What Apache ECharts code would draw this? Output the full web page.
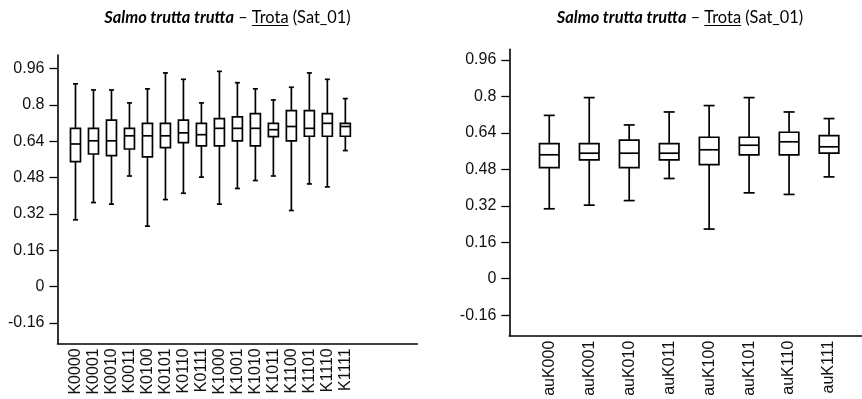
<!DOCTYPE html>
<html>
<head>
<meta charset="utf-8">
<script src="https://cdn.jsdelivr.net/npm/echarts@6/dist/echarts.min.js"></script>
<style>html,body{margin:0;padding:0;background:#fff;}#c{width:862px;height:399px;}</style>
</head>
<body>
<div id="c"></div>
<script>
// ---- Data ----
const leftCats  = ['K0000','K0001','K0010','K0011','K0100','K0101','K0110','K0111','K1000','K1001','K1010','K1011','K1100','K1101','K1110','K1111'];
const leftHigh  = [0.893,0.866,0.866,0.809,0.871,0.941,0.913,0.809,0.948,0.898,0.871,0.822,0.878,0.941,0.913,0.828];
const leftQ3    = [0.697,0.697,0.733,0.697,0.719,0.719,0.733,0.719,0.740,0.747,0.762,0.719,0.775,0.775,0.762,0.719];
const leftMed   = [0.628,0.642,0.642,0.664,0.664,0.664,0.677,0.669,0.697,0.697,0.697,0.691,0.705,0.697,0.719,0.705];
const leftQ1    = [0.550,0.584,0.577,0.606,0.571,0.612,0.634,0.620,0.620,0.642,0.620,0.660,0.642,0.662,0.662,0.662];
const leftLow   = [0.294,0.370,0.363,0.487,0.266,0.383,0.411,0.482,0.363,0.432,0.467,0.487,0.335,0.452,0.439,0.599];

const rightCats = ['auK000','auK001','auK010','auK011','auK100','auK101','auK110','auK111'];
const rightHigh = [0.717,0.795,0.675,0.732,0.760,0.795,0.732,0.703];
const rightQ3   = [0.593,0.593,0.608,0.593,0.621,0.621,0.643,0.628];
const rightMed  = [0.544,0.551,0.551,0.551,0.566,0.586,0.601,0.579];
const rightQ1   = [0.488,0.522,0.488,0.522,0.501,0.544,0.544,0.551];
const rightLow  = [0.307,0.323,0.343,0.440,0.218,0.377,0.370,0.447];

const yTicks = [-0.16, 0, 0.16, 0.32, 0.48, 0.64, 0.8, 0.96];
const titleParts = ['Salmo trutta trutta', ' \u2013 ', 'Trota', ' (Sat_01)'];

// ---- Build ----
const leftAxisCats  = [''].concat(leftCats, ['', '', '', '']);
const rightAxisCats = [''].concat(rightCats, ['']);

function mkData(low, q1, med, q3, high) {
  return low.map((v, i) => [i + 1, low[i], q1[i], med[i], q3[i], high[i]]);
}

function boxRenderer(boxW, capW) {
  return function (params, api) {
    const x = api.value(0);
    const pLow = api.coord([x, api.value(1)]);
    const pQ1 = api.coord([x, api.value(2)]);
    const pMed = api.coord([x, api.value(3)]);
    const pQ3 = api.coord([x, api.value(4)]);
    const pHigh = api.coord([x, api.value(5)]);
    const cx = pMed[0];
    const st = { stroke: '#000', lineWidth: 1.7, fill: 'none' };
    return {
      type: 'group',
      children: [
        { type: 'line', shape: { x1: cx, y1: pQ3[1], x2: cx, y2: pHigh[1] }, style: st },
        { type: 'line', shape: { x1: cx, y1: pQ1[1], x2: cx, y2: pLow[1] }, style: st },
        { type: 'line', shape: { x1: cx - capW / 2, y1: pHigh[1], x2: cx + capW / 2, y2: pHigh[1] }, style: st },
        { type: 'line', shape: { x1: cx - capW / 2, y1: pLow[1], x2: cx + capW / 2, y2: pLow[1] }, style: st },
        { type: 'rect', shape: { x: cx - boxW / 2, y: pQ3[1], width: boxW, height: pQ1[1] - pQ3[1] }, style: { stroke: '#000', lineWidth: 1.7, fill: '#fff' } },
        { type: 'line', shape: { x1: cx - boxW / 2, y1: pMed[1], x2: cx + boxW / 2, y2: pMed[1] }, style: st }
      ]
    };
  };
}

const labelFont = { fontFamily: "'Liberation Sans', Arial, sans-serif", fontSize: 16, color: '#111' };

function yAxis(gi, max) {
  return {
    type: 'value', gridIndex: gi, min: -0.25, max: max,
    splitLine: { show: false },
    axisLine: { show: true, lineStyle: { color: '#000', width: 1.6 } },
    axisTick: { show: true, length: 8, customValues: yTicks, lineStyle: { color: '#000', width: 1.3 } },
    axisLabel: Object.assign({ customValues: yTicks, margin: 13, formatter: v => String(v) }, labelFont)
  };
}
function xAxis(gi, cats) {
  return {
    type: 'category', gridIndex: gi, data: cats, boundaryGap: false,
    axisLine: { show: true, onZero: false, lineStyle: { color: '#000', width: 1.6 } },
    axisTick: { show: false },
    splitLine: { show: false },
    axisLabel: Object.assign({ interval: 0, rotate: 90, margin: 5 }, labelFont)
  };
}

// Title graphic with underline, measured with canvas
const ctx = document.createElement('canvas').getContext('2d');
const TF = 16.4;
const titleFonts = [
  'italic bold ' + TF + 'px Lato, sans-serif',
  TF + 'px Lato, sans-serif',
  TF + 'px Lato, sans-serif',
  TF + 'px Lato, sans-serif'
];
function titleGraphic(cx, midY) {
  const widths = titleParts.map((t, i) => { ctx.font = titleFonts[i]; return ctx.measureText(t).width; });
  const total = widths.reduce((a, b) => a + b, 0);
  let x = cx - total / 2;
  const els = [];
  titleParts.forEach((t, i) => {
    els.push({ type: 'text', x: x, y: midY, style: { text: t, font: titleFonts[i], fill: '#000', verticalAlign: 'middle', align: 'left' } });
    if (i === 2) {
      els.push({ type: 'line', shape: { x1: x, y1: midY + 7.5, x2: x + widths[i], y2: midY + 7.5 }, style: { stroke: '#000', lineWidth: 1.2 } });
    }
    x += widths[i];
  });
  return els;
}

const chart = echarts.init(document.getElementById('c'), null, { renderer: 'canvas' });
chart.setOption({
  animation: false,
  backgroundColor: '#fff',
  grid: [
    { left: 57.5, right: 444.7, top: 55, bottom: 55.7, outerBoundsMode: 'none', containLabel: false },
    { left: 509.3, right: -7, top: 49.3, bottom: 63.3, outerBoundsMode: 'none', containLabel: false }
  ],
  xAxis: [xAxis(0, leftAxisCats), xAxis(1, rightAxisCats)],
  yAxis: [yAxis(0, 1.02), yAxis(1, 1.007)],
  series: [
    { type: 'custom', xAxisIndex: 0, yAxisIndex: 0, renderItem: boxRenderer(10, 5), encode: { x: 0, y: [1, 2, 3, 4, 5] }, data: mkData(leftLow, leftQ1, leftMed, leftQ3, leftHigh), clip: false },
    { type: 'custom', xAxisIndex: 1, yAxisIndex: 1, renderItem: boxRenderer(19.5, 11), encode: { x: 0, y: [1, 2, 3, 4, 5] }, data: mkData(rightLow, rightQ1, rightMed, rightQ3, rightHigh), clip: false }
  ],
  graphic: titleGraphic(227.5, 18).concat(titleGraphic(680, 18))
});
</script>
</body>
</html>
